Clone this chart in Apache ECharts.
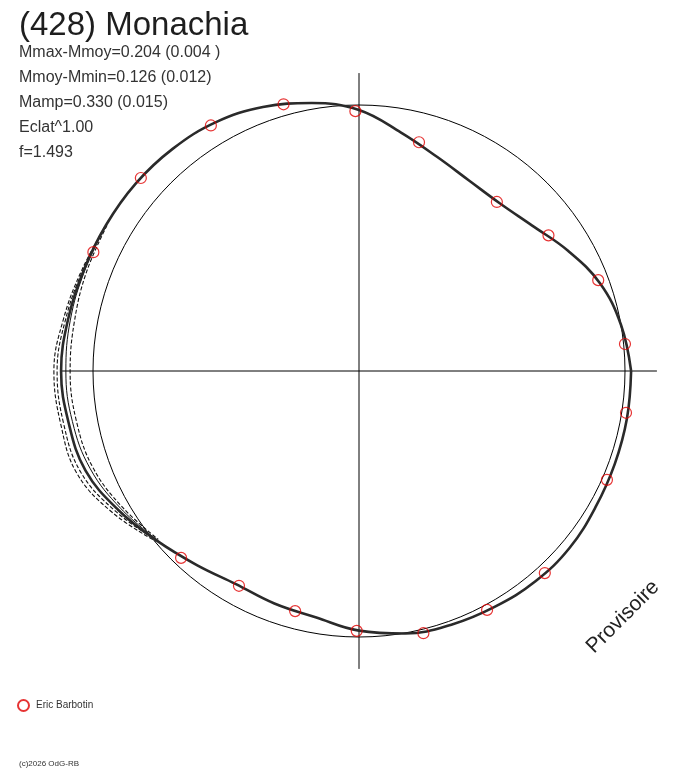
<!DOCTYPE html>
<html><head><meta charset="utf-8">
<script src="https://cdn.jsdelivr.net/npm/echarts@6/dist/echarts.min.js"></script>
<style>html,body{margin:0;padding:0;background:#fff}#c{width:688px;height:768px}</style>
</head><body><div id="c"></div>
<script>
// Radii in relative units (reference circle = 100), angles in degrees (counter-clockwise from +x)
const curveAngles = [0,10,20,30,40,50,60,70,80,90,100,110,120,130,140,150,160,170,180,190,200,210,220,230,240,250,260,270,280,290,300,310,320,330,340,350,360];
const curveRadii  = [102.3,100.0,96.4,90.6,85.0,82.3,82.7,85.7,91.0,98.1,102.3,105.6,107.9,109.0,109.6,109.8,110.2,111.1,112.0,110.9,109.4,104.5,99.2,95.1,92.5,93.0,94.0,97.6,100.2,101.5,102.3,103.2,103.4,102.6,102.3,102.3,102.3];

// Alternative solutions on the left side
const altAngles = [150,160,170,180,190,200,210,220];
const altDashA  = [109.8,110.9,112.8,114.7,113.9,112.8,106.8,99.6];
const altDashB  = [109.8,110.5,112.0,113.5,112.8,111.3,105.6,99.2];
const altSolid  = [109.8,109.8,110.2,110.2,109.4,107.5,103.4,98.9];
const altDashC  = [109.4,109.0,108.6,108.6,107.9,106.4,102.6,98.5];

// Observations (Eric Barbotin)
const obsAngles = [105.8,90.8,121.1,138.5,155.9,75.3,50.8,35.6,20.8,5.8,351.1,336.3,312.6,298.2,283.8,269.5,255.1,240.8,226.4];
const obsRadii  = [104.2,97.7,107.8,109.5,109.4,88.9,82.0,87.6,96.2,100.5,101.6,101.8,103.2,101.9,101.5,97.7,93.4,92.5,97.0];

const titleText = '(428) Monachia';
const statLines = ['Mmax-Mmoy=0.204 (0.004 )','Mmoy-Mmin=0.126 (0.012)','Mamp=0.330 (0.015)','Eclat^1.00','f=1.493'];
const observer = 'Eric Barbotin';
const watermark = 'Provisoire';
const copyright = '(c)2026 OdG-RB';

const refRadius = 100;     // reference circle
const crossMax = 112.0;    // extent of the cross lines
const dataMax = 120.0;     // extent of the data polar

function pairs(rs, as){ return rs.map((r,i)=>[r, as[i]]); }

const chart = echarts.init(document.getElementById('c'), null, {renderer:'canvas'});
const FONT = '"Liberation Sans", Arial, sans-serif';
const CENTER = [359, 371];
const PX_PER_UNIT = 2.66;
const hidden = {axisLine:{show:false}, axisTick:{show:false}, axisLabel:{show:false}};
const dashed = (name, data) => ({
  name, type:'line', coordinateSystem:'polar', polarIndex:1, data, symbol:'none', clip:false, silent:true,
  smooth:0.4, lineStyle:{color:'#111', width:1.1, type:[4,2]}, z:3
});
chart.setOption({
  animation:false,
  backgroundColor:'#fff',
  polar:[
    {center:CENTER, radius:crossMax*PX_PER_UNIT},
    {center:CENTER, radius:dataMax*PX_PER_UNIT}
  ],
  angleAxis:[
    {polarIndex:0, type:'value', min:0, max:360, interval:90, startAngle:0, clockwise:false, ...hidden,
      splitLine:{show:true, lineStyle:{color:'#000', width:1}}},
    {polarIndex:1, type:'value', min:0, max:360, interval:90, startAngle:0, clockwise:false, ...hidden,
      splitLine:{show:false}}
  ],
  radiusAxis:[
    {polarIndex:0, type:'value', min:0, max:crossMax, ...hidden, splitLine:{show:false}},
    {polarIndex:1, type:'value', min:0, max:dataMax, interval:refRadius, ...hidden,
      splitLine:{show:true, lineStyle:{color:['rgba(0,0,0,0)','#000','rgba(0,0,0,0)'], width:1}}}
  ],
  legend:{data:[observer], left:12, top:694, itemWidth:11, itemHeight:11, icon:'circle',
    textStyle:{fontSize:10, color:'#333', fontFamily:FONT, padding:[0,0,0,2]}},
  series:[
    dashed('a', pairs(altDashA, altAngles)),
    dashed('b', pairs(altDashB, altAngles)),
    dashed('c', pairs(altDashC, altAngles)),
    {name:'s', type:'line', coordinateSystem:'polar', polarIndex:1, data:pairs(altSolid, altAngles), symbol:'none', clip:false,
      smooth:0.4, lineStyle:{color:'#111', width:1}, z:3},
    {name:'model', type:'line', coordinateSystem:'polar', polarIndex:1, data:pairs(curveRadii, curveAngles), symbol:'none', clip:false,
      smooth:0.4, lineStyle:{color:'#2a2a2a', width:2.6}, z:4},
    {name:observer, type:'scatter', coordinateSystem:'polar', polarIndex:1, data:pairs(obsRadii, obsAngles),
      symbol:'circle', symbolSize:11, clip:false,
      itemStyle:{color:'rgba(0,0,0,0)', borderColor:'#e00000', borderWidth:1.2}, z:5}
  ],
  graphic:[
    {type:'text', left:19, top:9, style:{text:titleText, font:'33px '+FONT, fill:'#1e1e1e'}},
    ...statLines.map((t,i)=>({type:'text', left:19, top:45+i*24.8, style:{text:t, font:'16px '+FONT, fill:'#333'}})),
    {type:'text', x:623, y:617, rotation:45*Math.PI/180,
      style:{text:watermark, font:'21px '+FONT, fill:'#222', align:'center', verticalAlign:'middle'}},
    {type:'text', left:19, top:760, style:{text:copyright, font:'8px '+FONT, fill:'#333'}}
  ]
});
</script></body></html>
